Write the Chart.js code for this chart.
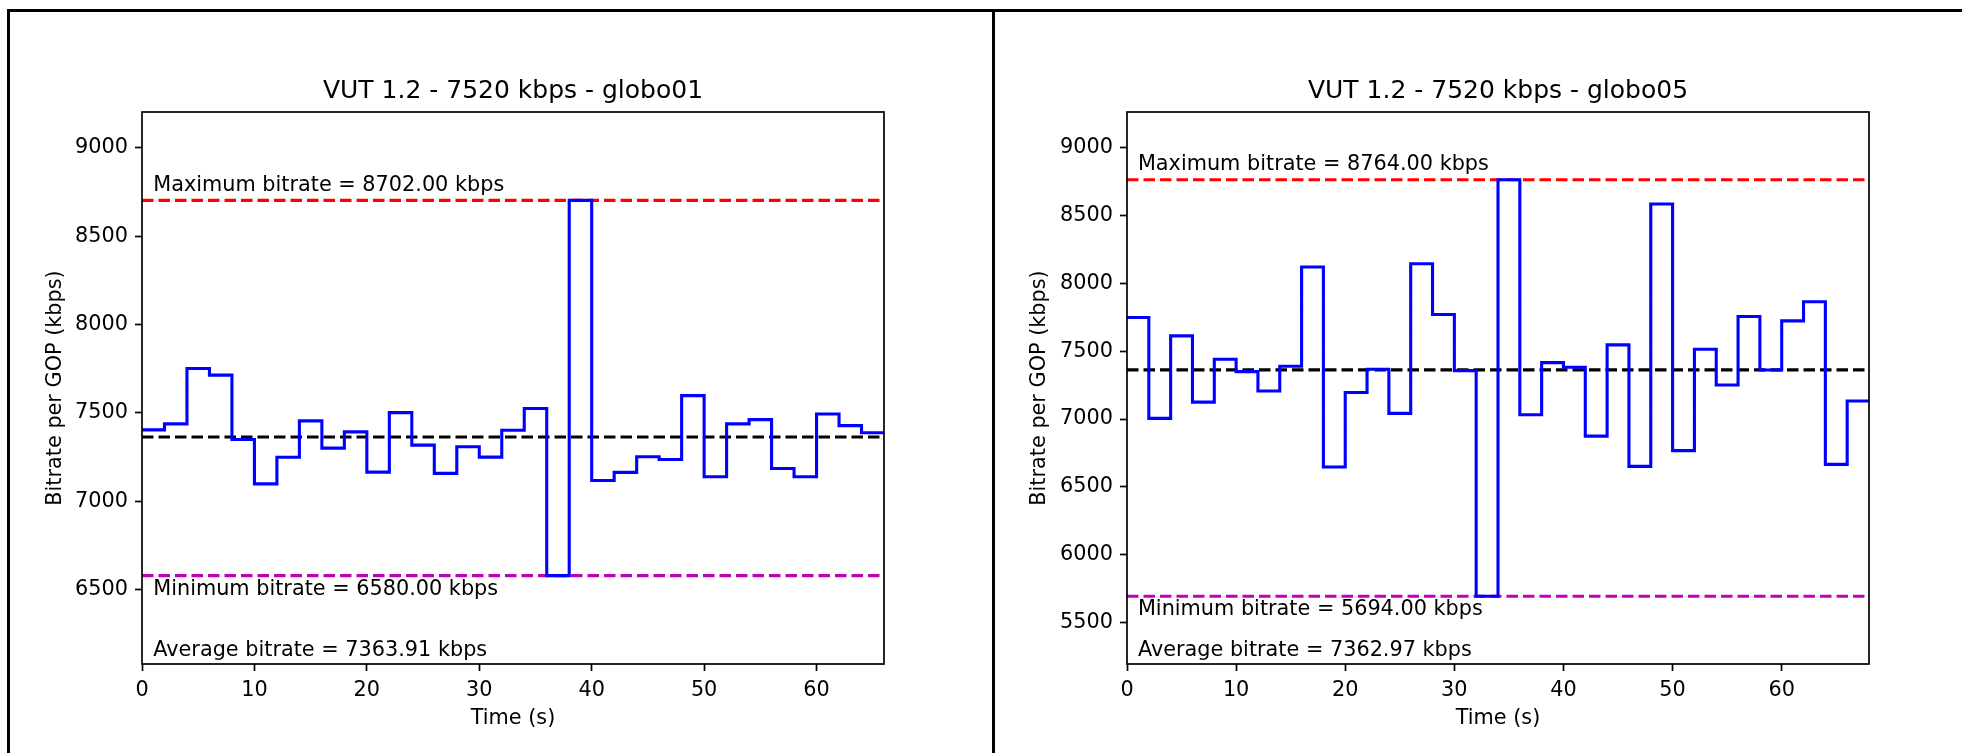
<!DOCTYPE html>
<html>
<head>
<meta charset="utf-8">
<script src="https://cdn.jsdelivr.net/npm/chart.js@4/dist/chart.umd.min.js"></script>
<style>
  html, body { margin: 0; padding: 0; background: #fff; }
  body { width: 1962px; height: 753px; position: relative; overflow: hidden; }
  canvas { position: absolute; top: 0; }
  #chartA { left: 0; width: 993px; height: 753px; }
  #chartB { left: 995px; width: 967px; height: 753px; }
  .rule { position: absolute; background: #000; z-index: 5; }
</style>
</head>
<body>
<div class="rule" style="left:7px;top:9px;width:1955px;height:3px"></div>
<div class="rule" style="left:7px;top:9px;width:3px;height:744px"></div>
<div class="rule" style="left:992px;top:9px;width:3px;height:744px"></div>
<canvas id="chartA" width="993" height="753"></canvas>
<canvas id="chartB" width="967" height="753"></canvas>
<script>
// ---- globo01 ----
const titleA = 'VUT 1.2 - 7520 kbps - globo01';
const timesA = [0, 2, 4, 6, 8, 10, 12, 14, 16, 18, 20, 22, 24, 26, 28, 30, 32, 34, 36, 38,
                40, 42, 44, 46, 48, 50, 52, 54, 56, 58, 60, 62, 64, 66];
const bitrateA = [7404, 7438, 7751, 7714, 7350, 7099, 7249, 7455, 7301, 7393, 7165, 7502,
                  7318, 7158, 7309, 7250, 7402, 7525, 6580, 8702, 7118, 7164, 7252, 7237,
                  7598, 7139, 7438, 7462, 7186, 7139, 7494, 7428, 7388];
const maxA = 8702.00, minA = 6580.00, avgA = 7363.91;
const yRangeA = [6080, 9202];
const xRangeA = [0, 66];
const yTicksA = [6500, 7000, 7500, 8000, 8500, 9000];

// ---- globo05 ----
const titleB = 'VUT 1.2 - 7520 kbps - globo05';
const timesB = [0, 2, 4, 6, 8, 10, 12, 14, 16, 18, 20, 22, 24, 26, 28, 30, 32, 34, 36, 38,
                40, 42, 44, 46, 48, 50, 52, 54, 56, 58, 60, 62, 64, 66, 68];
const bitrateB = [7749, 7005, 7613, 7125, 7441, 7350, 7207, 7389, 8121, 6646, 7196, 7367,
                  7042, 8145, 7771, 7357, 5694, 8764, 7032, 7416, 7382, 6874, 7547, 6651,
                  8586, 6767, 7515, 7251, 7756, 7362, 7724, 7865, 6666, 7133];
const maxB = 8764.00, minB = 5694.00, avgB = 7362.97;
const yRangeB = [5194, 9264];
const xRangeB = [0, 68];
const yTicksB = [5500, 6000, 6500, 7000, 7500, 8000, 8500, 9000];

// shared axis text
const xAxisLabel = 'Time (s)';
const yAxisLabel = 'Bitrate per GOP (kbps)';
const xTicks = [0, 10, 20, 30, 40, 50, 60];

Chart.defaults.font.family = '"DejaVu Sans", sans-serif';
Chart.defaults.color = '#000';

const FONT = 20.8;
const LW = 3.1;
const DASH = [11.5, 5];

// step trace: each GOP value held until the next GOP starts
function stepPoints(times, values) {
  const pts = values.map((v, i) => ({ x: times[i], y: v }));
  pts.push({ x: times[values.length], y: values[values.length - 1] });
  return pts;
}

function hline(value, xr) {
  return [{ x: xr[0], y: value }, { x: xr[1], y: value }];
}

// axes frame + bitrate annotations
const framePlugin = {
  id: 'frameNotes',
  afterDatasetsDraw(chart, args, opts) {
    const { ctx, chartArea: a, scales: { x, y } } = chart;
    ctx.save();
    ctx.strokeStyle = '#000';
    ctx.lineWidth = 1.7;
    ctx.strokeRect(a.left, a.top, a.right - a.left, a.bottom - a.top);
    ctx.fillStyle = '#000';
    ctx.font = FONT + 'px "DejaVu Sans"';
    ctx.textAlign = 'left';
    ctx.textBaseline = 'alphabetic';
    const tx = x.getPixelForValue(1);
    ctx.fillText('Maximum bitrate = ' + opts.max.toFixed(2) + ' kbps', tx, y.getPixelForValue(opts.max) - 9.5);
    ctx.fillText('Minimum bitrate = ' + opts.min.toFixed(2) + ' kbps', tx, y.getPixelForValue(opts.min) + 19);
    ctx.fillText('Average bitrate = ' + opts.avg.toFixed(2) + ' kbps', tx, a.bottom - 8);
    ctx.restore();
  }
};

function buildChart(id, spec) {
  const lineDs = (data, color, dash) => ({
    data, borderColor: color, borderWidth: LW, borderDash: dash || [],
    pointRadius: 0, fill: false, tension: 0
  });
  const tickGrid = {
    display: true, drawOnChartArea: false, drawTicks: true,
    tickLength: 7, tickWidth: 1.7, tickColor: '#000'
  };
  return new Chart(document.getElementById(id), {
    type: 'line',
    data: {
      datasets: [
        Object.assign(lineDs(stepPoints(spec.times, spec.values), '#0000ff'), { stepped: true }),
        lineDs(hline(spec.max, spec.xr), '#ff0000', DASH),
        lineDs(hline(spec.min, spec.xr), '#bf00bf', DASH),
        lineDs(hline(spec.avg, spec.xr), '#000000', DASH)
      ]
    },
    options: {
      responsive: false,
      animation: false,
      devicePixelRatio: 1,
      layout: { padding: { left: 0, right: spec.padRight, top: 0, bottom: 0 } },
      plugins: {
        legend: { display: false },
        tooltip: { enabled: false },
        title: {
          display: true, text: spec.title, fullSize: false, color: '#000',
          font: { size: 25, weight: 'normal' }, padding: { top: 76, bottom: 6 }
        },
        frameNotes: { max: spec.max, min: spec.min, avg: spec.avg }
      },
      scales: {
        x: {
          type: 'linear', min: spec.xr[0], max: spec.xr[1],
          afterBuildTicks(s) { s.ticks = xTicks.map(v => ({ value: v })); },
          afterFit(s) { s.height = 89; },
          ticks: {
            padding: 7, maxRotation: 0, autoSkip: false,
            font: { size: FONT }, color: '#000', callback: v => String(v)
          },
          grid: tickGrid,
          border: { display: false },
          title: {
            display: true, text: xAxisLabel, color: '#000',
            font: { size: FONT }, padding: { top: 0, bottom: 21.5 }
          }
        },
        y: {
          type: 'linear', min: spec.yr[0], max: spec.yr[1],
          afterBuildTicks(s) { s.ticks = spec.yTicks.map(v => ({ value: v })); },
          afterFit(s) { s.width = spec.axisWidth; },
          ticks: {
            padding: 7, autoSkip: false,
            font: { size: FONT }, color: '#000', callback: v => String(v)
          },
          grid: tickGrid,
          border: { display: false },
          title: {
            display: true, text: yAxisLabel, color: '#000',
            font: { size: FONT }, padding: { top: spec.yTitlePad, bottom: 0 }
          }
        }
      }
    },
    plugins: [framePlugin]
  });
}

buildChart('chartA', {
  title: titleA, times: timesA, values: bitrateA, yTicks: yTicksA,
  max: maxA, min: minA, avg: avgA, yr: yRangeA, xr: xRangeA,
  axisWidth: 142, padRight: 109, yTitlePad: 43
});
buildChart('chartB', {
  title: titleB, times: timesB, values: bitrateB, yTicks: yTicksB,
  max: maxB, min: minB, avg: avgB, yr: yRangeB, xr: xRangeB,
  axisWidth: 132, padRight: 93, yTitlePad: 32
});
</script>
</body>
</html>
